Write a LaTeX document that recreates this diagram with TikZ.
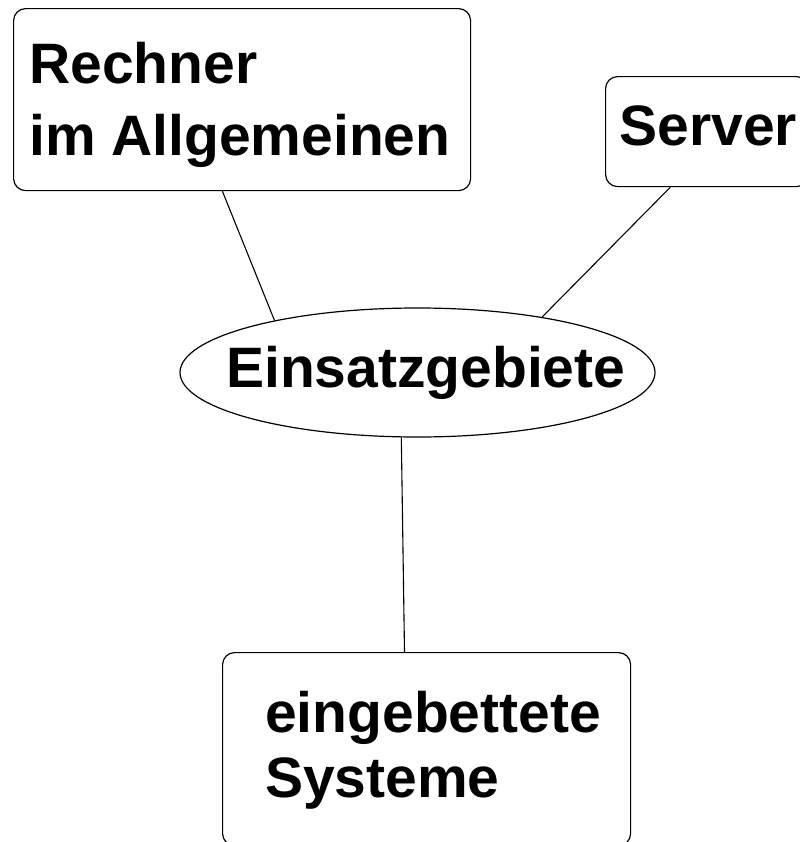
\documentclass[tikz,border=0pt]{standalone}
\usepackage{fontspec}
\setmainfont{Liberation Sans}
\usetikzlibrary{shapes.geometric,calc}

\tikzset{
  box/.style={draw, rectangle, rounded corners=12bp, line width=1.2bp,
    anchor=north west, inner sep=0pt},
  oval/.style={draw, ellipse, line width=1.2bp, inner sep=0pt},
  % multi-line labels sit on the baseline of their last line
  word/.style={anchor=base west, inner sep=0pt, align=left,
    font=\bfseries\fontsize{57bp}{#1}\selectfont},
  word/.default={72bp},
  link/.style={line width=1.1bp}
}

\begin{document}
\begin{tikzpicture}[x=1bp, y=-1bp]
  \clip (0,0) rectangle (800,842);
  \fill[white] (0,0) rectangle (800,842);

  % boxes and the central ellipse
  \node[box, minimum width=457bp, minimum height=182bp] (rech) at (13,8) {};
  \node[box, minimum width=203bp, minimum height=110bp] (serv) at (605,76) {};
  \node[box, minimum width=408bp, minimum height=193bp] (emb) at (222,652) {};
  \node[oval, minimum width=475bp, minimum height=129bp] (ein) at (417.5,372.5) {};

  % labels
  \node[word=72bp] (rechtxt) at (29,155) {Rechner\\im Allgemeinen};
  \node[word] (servtxt) at (619.5,145) {Server};
  \node[word] (eintxt) at (226,387) {Einsatzgebiete};
  \node[word=65bp] (embtxt) at (265,797) {eingebettete\\Systeme};

  % connectors
  \draw[link] ($(rech.south west)!0.457!(rech.south east)$) -- (ein.160);
  \draw[link] ($(serv.south west)!0.32!(serv.south east)$) -- (ein.24);
  \draw[link] (ein.256) -- ($(emb.north west)!0.446!(emb.north east)$);
\end{tikzpicture}
\end{document}
